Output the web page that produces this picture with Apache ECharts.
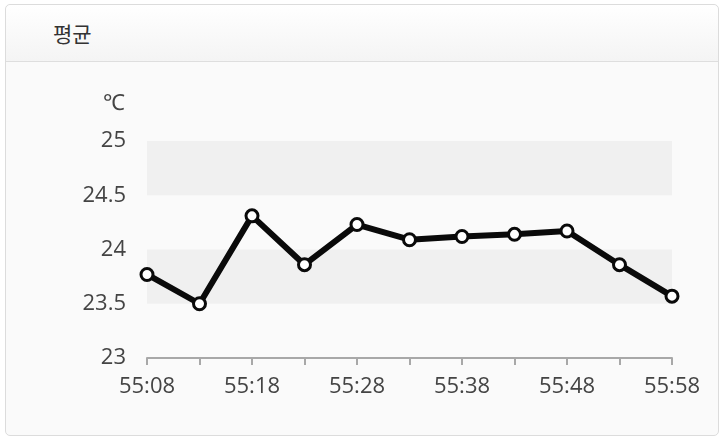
<!DOCTYPE html>
<html>
<head>
<meta charset="utf-8">
<script src="https://cdn.jsdelivr.net/npm/echarts@6/dist/echarts.min.js"></script>
<style>
  html, body { margin: 0; padding: 0; width: 723px; height: 442px; background: #fff; overflow: hidden; }
  .panel {
    position: absolute; left: 5px; top: 4px; width: 714px; height: 432px;
    border: 1px solid #dcdcdc; border-radius: 5px; background: #fafafa; box-sizing: border-box;
  }
  .head {
    height: 57px; border-bottom: 1px solid #dedede; border-radius: 5px 5px 0 0;
    background: linear-gradient(#ffffff, #f4f4f4);
    font-family: "Noto Sans CJK KR", sans-serif; font-size: 21px; color: #333;
    line-height: 57px; padding-left: 47px; box-sizing: border-box;
  }
  #chart { position: absolute; left: 0; top: 0; width: 723px; height: 442px; }
</style>
</head>
<body>
<div class="panel"><div class="head">평균</div></div>
<div id="chart"></div>
<script>
// x 축 시간 (5초 간격)
var times = ['55:08', '55:13', '55:18', '55:23', '55:28', '55:33', '55:38', '55:43', '55:48', '55:53', '55:58'];
// 평균 온도
var avgTemp = [23.77, 23.5, 24.31, 23.86, 24.23, 24.09, 24.12, 24.14, 24.17, 23.86, 23.57];
var yTicks = { min: 23, max: 25, interval: 0.5 };

var myChart = echarts.init(document.getElementById('chart'));
var option = {
  backgroundColor: 'transparent',
  animation: false,
  textStyle: { fontFamily: 'Open Sans' },
  grid: { left: 147, right: 51, top: 141, bottom: 84 },
  xAxis: {
    type: 'category',
    boundaryGap: false,
    data: times,
    axisLine: { lineStyle: { color: '#a8a8a8', width: 2 } },
    axisTick: { interval: 0, length: 7, lineStyle: { color: '#a8a8a8', width: 2 } },
    axisLabel: { interval: 1, color: '#444', fontSize: 22, margin: 18 },
    splitLine: { show: false }
  },
  yAxis: {
    type: 'value',
    min: yTicks.min, max: yTicks.max, interval: yTicks.interval,
    name: '℃',
    nameGap: 26,
    nameTextStyle: { color: '#444', fontSize: 22, align: 'right', padding: [0, 22, 0, 0] },
    axisLine: { show: false },
    axisTick: { show: false },
    axisLabel: { color: '#444', fontSize: 22, margin: 21 },
    splitLine: { show: false },
    splitArea: { show: true, areaStyle: { color: ['transparent', '#f0f0f0'] } }
  },
  series: [{
    type: 'line',
    data: avgTemp,
    symbol: 'circle',
    symbolSize: 12,
    lineStyle: { color: '#0a0a0a', width: 6 },
    itemStyle: { color: '#fff', borderColor: '#0a0a0a', borderWidth: 3 }
  }]
};
myChart.setOption(option);
</script>
</body>
</html>
